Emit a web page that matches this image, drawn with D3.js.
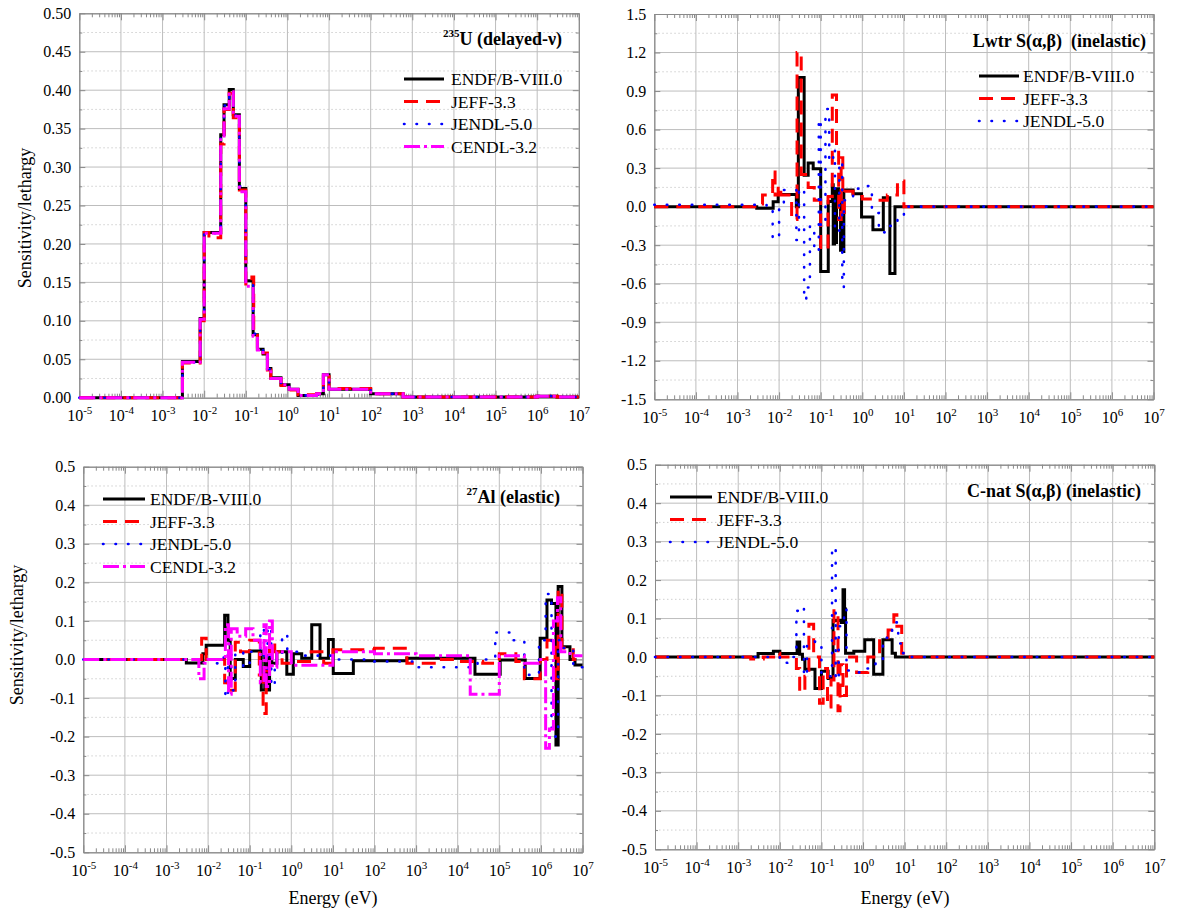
<!DOCTYPE html>
<html>
<head>
<meta charset="utf-8">
<title>Sensitivity profiles</title>
<script src="https://cdn.jsdelivr.net/npm/d3@7/dist/d3.min.js"></script>
<style>
  html, body { margin: 0; padding: 0; background: #fff; }
  svg { display: block; font-family: "Liberation Serif", "Times New Roman", serif; }
  svg text { font-family: "Liberation Serif", "Times New Roman", serif; }
</style>
</head>
<body>
<svg id="chart" width="1177" height="914"></svg>
<script>
// ---------------------------------------------------------------
// Data: sensitivity per unit lethargy as step profiles.
// Each entry is [lower group boundary (eV), value]; a value holds
// until the next boundary, the last one up to 1e7 eV.
// ---------------------------------------------------------------
const libraries = ["ENDF/B-VIII.0", "JEFF-3.3", "JENDL-5.0", "CENDL-3.2"];
const energyExponents = [-5, -4, -3, -2, -1, 0, 1, 2, 3, 4, 5, 6, 7];

// 235U delayed neutron yield
const u235Ticks = [0, 0.05, 0.10, 0.15, 0.20, 0.25, 0.30, 0.35, 0.40, 0.45, 0.50];
const u235Endf = [[1e-5,0],[3e-3,0.047],[8e-3,0.103],[1e-2,0.215],[0.025,0.342],[0.03,0.381],[0.04,0.401],[0.05,0.368],[0.07,0.272],[0.1,0.152],[0.15,0.082],[0.19,0.063],[0.26,0.057],[0.33,0.038],[0.40,0.026],[0.70,0.017],[1.1,0.011],[1.8,0.003],[5,0.005],[7.3,0.030],[10,0.011],[100,0.005],[600,0.001],[1e6,0.002],[3e6,0.001]];
const u235Jeff = [[1e-5,0],[2.7e-3,0.004],[3e-3,0.045],[8e-3,0.100],[1e-2,0.215],[0.013,0.208],[0.025,0.330],[0.03,0.375],[0.04,0.396],[0.05,0.364],[0.07,0.270],[0.1,0.148],[0.14,0.157],[0.155,0.088],[0.19,0.066],[0.26,0.058],[0.33,0.036],[0.40,0.025],[0.70,0.016],[1.1,0.010],[1.8,0.004],[5,0.005],[7.3,0.031],[10,0.012],[100,0.005],[600,0.001],[1e6,0.002],[3e6,0.001]];
const u235Jendl = [[1e-5,0],[3e-3,0.046],[8e-3,0.102],[1e-2,0.214],[0.025,0.340],[0.03,0.380],[0.04,0.399],[0.05,0.367],[0.07,0.275],[0.1,0.151],[0.15,0.083],[0.19,0.062],[0.26,0.056],[0.33,0.037],[0.40,0.025],[0.70,0.017],[1.1,0.011],[1.8,0.003],[5,0.004],[7.3,0.029],[10,0.011],[100,0.005],[600,0.001],[1e6,0.002],[3e6,0.001]];
const u235Cendl = [[1e-5,0],[3e-3,0.046],[8e-3,0.102],[1e-2,0.214],[0.025,0.338],[0.03,0.376],[0.04,0.398],[0.05,0.366],[0.07,0.268],[0.1,0.145],[0.15,0.080],[0.19,0.062],[0.26,0.056],[0.33,0.037],[0.40,0.025],[0.70,0.017],[1.1,0.011],[1.8,0.003],[5,0.005],[7.3,0.030],[10,0.011],[100,0.005],[600,0.001],[1e6,0.002],[3e6,0.001]];

// Light water S(alpha,beta), inelastic
const lwtrTicks = [-1.5, -1.2, -0.9, -0.6, -0.3, 0.0, 0.3, 0.6, 0.9, 1.2, 1.5];
const lwtrEndf = [[1e-5,0],[2.9e-3,-0.013],[7.2e-3,0.039],[9.5e-3,0.095],[0.026,0.0],[0.029,1.005],[0.040,0.245],[0.050,0.340],[0.066,0.295],[0.10,-0.505],[0.152,0.04],[0.19,0.17],[0.20,-0.29],[0.215,0.12],[0.225,-0.28],[0.24,0.14],[0.27,0.10],[0.30,-0.34],[0.32,0.05],[0.335,-0.35],[0.36,0.13],[0.60,0.10],[0.96,-0.08],[1.8,-0.18],[3.2,0.07],[4.6,-0.52],[6.1,0]];
const lwtrJeff = [[1e-5,0],[3e-3,0.02],[4e-3,0.09],[7e-3,0.27],[8e-3,0.09],[9.5e-3,0.16],[1.1e-2,0.09],[0.02,-0.10],[0.027,1.20],[0.034,0.25],[0.05,0.15],[0.07,0.05],[0.10,-0.33],[0.15,0.08],[0.19,0.87],[0.24,0.45],[0.27,-0.10],[0.31,0.38],[0.34,-0.08],[0.37,0.12],[0.6,0.08],[1.0,0.06],[2.0,0.05],[4.0,0.09],[7.0,0.20],[10,0]];
const lwtrJendl = [[1e-5,0.015],[5e-3,0.0],[7e-3,-0.25],[1e-2,-0.02],[0.013,0.13],[0.026,-0.26],[0.030,0.14],[0.040,-0.73],[0.045,-0.63],[0.055,-0.15],[0.07,-0.35],[0.09,0.68],[0.10,-0.15],[0.13,0.76],[0.16,0.35],[0.20,0.45],[0.22,-0.20],[0.28,0.35],[0.33,-0.63],[0.36,0.05],[0.6,0.14],[1.0,0.16],[1.7,-0.05],[2.5,-0.20],[4,-0.15],[7,-0.10],[10,0]];

// 27Al elastic
const alTicks = [-0.5, -0.4, -0.3, -0.2, -0.1, 0.0, 0.1, 0.2, 0.3, 0.4, 0.5];
const alEndf = [[1e-5,0],[3e-3,-0.009],[7.5e-3,0.015],[9e-3,0.037],[0.025,0.115],[0.030,0.05],[0.034,-0.049],[0.045,0.0],[0.07,-0.018],[0.10,0.022],[0.19,-0.079],[0.23,0.01],[0.26,-0.079],[0.30,0.028],[0.34,-0.01],[0.45,0.02],[0.78,-0.038],[1.12,0.015],[1.78,0.003],[3.1,0.09],[4.9,0.003],[7.8,0.052],[10.2,-0.036],[31,-0.003],[600,0.003],[2.6e4,-0.038],[1.05e5,-0.001],[4.2e5,-0.049],[9.6e5,0.055],[1.4e6,0.154],[1.8e6,0.145],[2.3e6,-0.222],[2.6e6,0.189],[3.2e6,0.033],[5e6,0.0],[6.6e6,-0.014]];
const alJeff = [[1e-5,0],[7e-3,0.055],[9e-3,0.0],[0.025,-0.06],[0.03,-0.08],[0.045,0.045],[0.06,0.02],[0.10,0.05],[0.17,-0.04],[0.21,-0.14],[0.25,-0.03],[0.30,0.05],[0.40,0.02],[0.6,-0.01],[1.0,-0.005],[3,0.02],[6,-0.01],[10,0.025],[100,0.029],[600,-0.01],[3e3,0.0],[1e4,-0.005],[4e4,-0.01],[1e5,0.015],[2.5e5,-0.005],[4e5,-0.05],[9.6e5,0.0],[1.4e6,0.05],[2.2e6,-0.05],[2.6e6,0.18],[3.2e6,0.03],[6e6,0.0]];
const alJendl = [[1e-5,0],[1.2e-2,-0.01],[0.02,0.005],[0.026,-0.10],[0.030,0.04],[0.036,-0.08],[0.045,0.02],[0.07,-0.02],[0.1,0.02],[0.18,0.08],[0.22,-0.05],[0.27,0.085],[0.33,-0.07],[0.4,0.0],[0.6,0.065],[0.8,0.02],[2,0.01],[10,0.0],[100,-0.005],[1e3,-0.02],[3e4,0.0],[8e4,0.07],[2e5,0.05],[4e5,-0.04],[9e5,0.05],[1.3e6,0.17],[1.8e6,-0.20],[2.6e6,0.05],[3.5e6,0.03],[6e6,-0.02]];
const alCendl = [[1e-5,0],[6e-3,-0.05],[8e-3,-0.01],[0.01,0.0],[0.026,0.09],[0.031,-0.09],[0.036,0.08],[0.05,0.06],[0.08,0.08],[0.12,0.05],[0.18,-0.06],[0.22,0.09],[0.25,-0.07],[0.30,0.10],[0.35,-0.02],[0.45,0.02],[1,-0.015],[10,0.02],[100,0.015],[1e3,0.01],[2e4,-0.09],[1e5,0.01],[4e5,-0.01],[9e5,0.0],[1.3e6,-0.23],[1.6e6,-0.18],[2e6,0.10],[2.5e6,0.16],[3e6,0.02],[5e6,0.01]];

// Natural carbon S(alpha,beta), inelastic
const cTicks = [-0.5, -0.4, -0.3, -0.2, -0.1, 0.0, 0.1, 0.2, 0.3, 0.4, 0.5];
const cEndf = [[1e-5,0],[3e-3,0.009],[7e-3,0.015],[1e-2,0.009],[0.026,0.039],[0.030,0.007],[0.035,-0.006],[0.040,-0.032],[0.07,-0.082],[0.10,-0.037],[0.145,-0.056],[0.19,0.095],[0.30,0.09],[0.33,0.175],[0.36,0.125],[0.38,0.01],[0.60,0.015],[1.1,0.045],[1.8,-0.045],[3.0,0.045],[5.0,0.01],[6.0,0]];
const cJeff = [[1e-5,0],[2e-3,-0.005],[4e-3,0.0],[8e-3,0.01],[1e-2,0.0],[0.025,-0.03],[0.03,-0.09],[0.04,-0.05],[0.05,0.085],[0.065,0.0],[0.09,-0.12],[0.11,-0.03],[0.14,-0.13],[0.17,-0.06],[0.20,0.12],[0.25,-0.14],[0.28,-0.02],[0.33,-0.10],[0.40,0.0],[0.7,-0.04],[1.3,0.0],[2.5,0.05],[4.0,0.07],[5.5,0.11],[6.5,0.08],[8.5,0.01],[10,0]];
const cJendl = [[1e-5,0],[1e-2,-0.015],[0.015,0.0],[0.025,0.12],[0.032,0.13],[0.038,-0.05],[0.045,0.03],[0.07,0.04],[0.1,-0.05],[0.18,0.285],[0.22,-0.06],[0.26,0.08],[0.35,0.125],[0.40,-0.035],[0.6,-0.04],[1.0,-0.03],[2.0,-0.01],[3.0,0.05],[5.0,0.09],[7.0,0.035],[9.0,0.01],[11,0]];

// ---------------------------------------------------------------
// Appearance of each library's curve
// ---------------------------------------------------------------
const seriesStyle = {
  "ENDF/B-VIII.0": { color: "#000000", width: 3,   dash: null,        cap: "butt" },
  "JEFF-3.3":      { color: "#ff0000", width: 3,   dash: "14,8",      cap: "butt" },
  "JENDL-5.0":     { color: "#0000ff", width: 2.6, dash: "0.5,12",    cap: "round" },
  "CENDL-3.2":     { color: "#ff00ff", width: 3,   dash: "16,4,3,4",  cap: "butt" }
};

const SERIF = "'Liberation Serif', 'Times New Roman', serif";

const panels = [
  {
    key: "u235", frame: { x0: 79.3, x1: 578.8, y0: 13.3, y1: 397.7 },
    yTicks: u235Ticks, dec: 2,
    series: [[libraries[0], u235Endf], [libraries[1], u235Jeff], [libraries[2], u235Jendl], [libraries[3], u235Cendl]],
    label: { x: 562, y: 45, sup: "235", main: "U (delayed-\u03bd)" },
    legend: { x0: 404, x1: 444, tx: 451, y: 79, dy: 22.5 },
    yTitle: { x: 25, y: 218 }, xTitle: null
  },
  {
    key: "lwtr", frame: { x0: 654.3, x1: 1153.5, y0: 14, y1: 399.3 },
    yTicks: lwtrTicks, dec: 1,
    series: [[libraries[0], lwtrEndf], [libraries[1], lwtrJeff], [libraries[2], lwtrJendl]],
    label: { x: 1146, y: 47, sup: null, main: "Lwtr S(\u03b1,\u03b2)  (inelastic)" },
    legend: { x0: 979, x1: 1019, tx: 1023, y: 76, dy: 22.5 },
    yTitle: null, xTitle: null
  },
  {
    key: "al27", frame: { x0: 83.3, x1: 582.5, y0: 466.7, y1: 852.3 },
    yTicks: alTicks, dec: 1,
    series: [[libraries[0], alEndf], [libraries[1], alJeff], [libraries[2], alJendl], [libraries[3], alCendl]],
    label: { x: 560, y: 503, sup: "27", main: "Al (elastic)" },
    legend: { x0: 103, x1: 145, tx: 150, y: 499, dy: 22.5 },
    yTitle: { x: 17, y: 635 }, xTitle: { x: 333, y: 904 }
  },
  {
    key: "cnat", frame: { x0: 655, x1: 1154.3, y0: 464.7, y1: 849.3 },
    yTicks: cTicks, dec: 1,
    series: [[libraries[0], cEndf], [libraries[1], cJeff], [libraries[2], cJendl]],
    label: { x: 1141, y: 497, sup: null, main: "C-nat S(\u03b1,\u03b2) (inelastic)" },
    legend: { x0: 670, x1: 712, tx: 717, y: 497, dy: 22.5 },
    yTitle: null, xTitle: { x: 905, y: 904 }
  }
];

const svg = d3.select("#chart");
const FRAME = "#8a8a8a";

function styleAxis(sel) {
  sel.attr("font-family", SERIF).attr("font-size", 16).attr("color", FRAME);
  sel.select(".domain").attr("stroke", FRAME).attr("stroke-width", 1);
  sel.selectAll(".tick line").attr("stroke", FRAME).attr("stroke-width", 1);
  sel.selectAll(".tick text").attr("fill", "#000").attr("font-family", SERIF);
}

function drawPanel(p) {
  const f = p.frame;
  const x = d3.scaleLog().domain([1e-5, 1e7]).range([f.x0, f.x1]);
  const y = d3.scaleLinear()
    .domain([p.yTicks[0], p.yTicks[p.yTicks.length - 1]])
    .range([f.y1, f.y0]);
  const g = svg.append("g").attr("class", "panel " + p.key);

  const decades = energyExponents.map(e => Math.pow(10, e));
  const minorE = [];
  decades.slice(0, -1).forEach(d => { for (let k = 2; k < 10; k++) minorE.push(d * k); });
  const mids = d3.pairs(p.yTicks, (a, b) => (a + b) / 2);

  // grid: dotted half-steps, solid labelled steps and decades
  g.append("g").selectAll("line").data(mids).join("line")
    .attr("x1", f.x0).attr("x2", f.x1).attr("y1", d => y(d)).attr("y2", d => y(d))
    .attr("stroke", "#cfcfcf").attr("stroke-width", 1).attr("stroke-dasharray", "1.5,2.5");
  g.append("g").selectAll("line").data(p.yTicks.slice(1, -1)).join("line")
    .attr("x1", f.x0).attr("x2", f.x1).attr("y1", d => y(d)).attr("y2", d => y(d))
    .attr("stroke", "#bdbdbd").attr("stroke-width", 1);
  g.append("g").selectAll("line").data(decades.slice(1, -1)).join("line")
    .attr("x1", d => x(d)).attr("x2", d => x(d)).attr("y1", f.y0).attr("y2", f.y1)
    .attr("stroke", "#bdbdbd").attr("stroke-width", 1);

  // bottom axis with 10^n labels
  const bottom = g.append("g").attr("transform", `translate(0,${f.y1})`)
    .call(d3.axisBottom(x).tickValues(decades).tickSizeInner(-7).tickSizeOuter(0).tickPadding(12).tickFormat(""));
  styleAxis(bottom);
  bottom.selectAll(".tick text").each(function (d) {
    const t = d3.select(this);
    t.append("tspan").text("10");
    t.append("tspan").attr("font-size", 11).attr("dy", "-0.62em").text(String(Math.round(Math.log10(d))));
  });
  const bottomMinor = g.append("g").attr("transform", `translate(0,${f.y1})`)
    .call(d3.axisBottom(x).tickValues(minorE).tickSizeInner(-4).tickSizeOuter(0).tickFormat(""));
  styleAxis(bottomMinor);

  const top = g.append("g").attr("transform", `translate(0,${f.y0})`)
    .call(d3.axisTop(x).tickValues(decades).tickSizeInner(-7).tickSizeOuter(0).tickFormat(""));
  styleAxis(top);
  const topMinor = g.append("g").attr("transform", `translate(0,${f.y0})`)
    .call(d3.axisTop(x).tickValues(minorE).tickSizeInner(-4).tickSizeOuter(0).tickFormat(""));
  styleAxis(topMinor);

  const left = g.append("g").attr("transform", `translate(${f.x0},0)`)
    .call(d3.axisLeft(y).tickValues(p.yTicks).tickSizeInner(-6).tickSizeOuter(0).tickPadding(8)
      .tickFormat(d => d.toFixed(p.dec)));
  styleAxis(left);
  const leftMinor = g.append("g").attr("transform", `translate(${f.x0},0)`)
    .call(d3.axisLeft(y).tickValues(mids).tickSizeInner(-3).tickSizeOuter(0).tickFormat(""));
  styleAxis(leftMinor);

  const right = g.append("g").attr("transform", `translate(${f.x1},0)`)
    .call(d3.axisRight(y).tickValues(p.yTicks).tickSizeInner(-6).tickSizeOuter(0).tickFormat(""));
  styleAxis(right);
  const rightMinor = g.append("g").attr("transform", `translate(${f.x1},0)`)
    .call(d3.axisRight(y).tickValues(mids).tickSizeInner(-3).tickSizeOuter(0).tickFormat(""));
  styleAxis(rightMinor);

  // step curves
  const line = d3.line().x(d => x(d[0])).y(d => y(d[1])).curve(d3.curveStepAfter);
  p.series.forEach(([name, pts]) => {
    const s = seriesStyle[name];
    const full = pts.concat([[1e7, pts[pts.length - 1][1]]]);
    g.append("path").datum(full)
      .attr("d", line)
      .attr("fill", "none")
      .attr("stroke", s.color)
      .attr("stroke-width", s.width)
      .attr("stroke-dasharray", s.dash)
      .attr("stroke-linecap", s.cap)
      .attr("stroke-linejoin", "miter");
  });

  // legend
  const lg = g.append("g");
  p.series.forEach(([name], i) => {
    const s = seriesStyle[name];
    const yy = p.legend.y + i * p.legend.dy;
    lg.append("line")
      .attr("x1", p.legend.x0).attr("x2", p.legend.x1).attr("y1", yy).attr("y2", yy)
      .attr("stroke", s.color).attr("stroke-width", s.width)
      .attr("stroke-dasharray", s.dash).attr("stroke-linecap", s.cap);
    lg.append("text")
      .attr("x", p.legend.tx).attr("y", yy + 6)
      .attr("font-family", SERIF)
      .attr("font-size", 17.5).attr("fill", "#000")
      .text(name);
  });

  // panel caption
  const cap = g.append("text")
    .attr("x", p.label.x).attr("y", p.label.y)
    .attr("text-anchor", "end").attr("font-weight", "bold")
    .attr("font-family", SERIF)
    .attr("font-size", 18).attr("fill", "#000")
    .style("white-space", "pre");
  if (p.label.sup) {
    cap.append("tspan").attr("font-size", 11).attr("dy", -8).text(p.label.sup);
    cap.append("tspan").attr("dy", 8).text(p.label.main);
  } else {
    cap.append("tspan").text(p.label.main);
  }

  if (p.yTitle) {
    g.append("text")
      .attr("transform", `translate(${p.yTitle.x},${p.yTitle.y}) rotate(-90)`)
      .attr("text-anchor", "middle").attr("dy", "0.35em")
      .attr("font-family", SERIF)
      .attr("font-size", 18).attr("fill", "#000")
      .text("Sensitivity/lethargy");
  }
  if (p.xTitle) {
    g.append("text")
      .attr("x", p.xTitle.x).attr("y", p.xTitle.y)
      .attr("text-anchor", "middle")
      .attr("font-family", SERIF)
      .attr("font-size", 18).attr("fill", "#000")
      .text("Energy (eV)");
  }
}

panels.forEach(drawPanel);
</script>
</body>
</html>
